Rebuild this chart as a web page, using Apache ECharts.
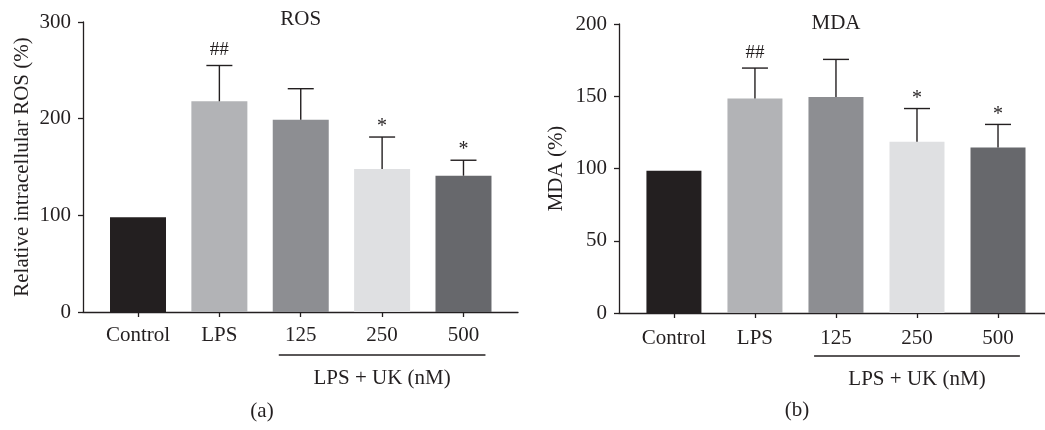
<!DOCTYPE html>
<html>
<head>
<meta charset="utf-8">
<script src="https://cdn.jsdelivr.net/npm/echarts@6/dist/echarts.min.js"></script>
<style>
html,body{margin:0;padding:0;background:#fff;}
#chart{width:1045px;height:430px;}
</style>
</head>
<body>
<div id="chart"></div>
<script>
// ---- data ----
var categories = ['Control', 'LPS', '125', '250', '500'];
var rosMean = [98, 218, 199, 148, 141];
var rosSD   = [0, 37, 32, 33, 16];
var rosSig  = ['', '##', '', '*', '*'];
var mdaMean = [98.5, 148.5, 149.5, 118.5, 114.5];
var mdaSD   = [0, 21, 26, 23, 16];
var mdaSig  = ['', '##', '', '*', '*'];
var barColors = ['#231f20', '#b2b3b6', '#8d8e92', '#dfe0e2', '#67686c'];
var groupLabel = 'LPS + UK (nM)';
var groupSpan = [1.73, 4.27]; // in category units

var FONT = '"Liberation Serif", "Times New Roman", serif';
var INK = '#231f20';
var FS = 21;

var chart = echarts.init(document.getElementById('chart'), null, {renderer: 'canvas'});

function barData(means) {
  return means.map(function (v, i) {
    return {value: [i, v], itemStyle: {color: barColors[i]}};
  });
}
function errData(means, sds) {
  return means.map(function (v, i) { return [i, v, v + sds[i]]; });
}
var sigBySeries = {};
function renderErr(params, api) {
  var x = api.value(0), y = api.value(1), top = api.value(2);
  var sig = sigBySeries[params.seriesIndex][params.dataIndex];
  var p0 = api.coord([x, y]);
  var p1 = api.coord([x, top]);
  var children = [];
  var capHalf = 13;
  if (top > y) {
    children.push({type: 'line', shape: {x1: p0[0], y1: p0[1], x2: p1[0], y2: p1[1]},
      style: {stroke: INK, lineWidth: 1.4}});
    children.push({type: 'line', shape: {x1: p1[0] - capHalf, y1: p1[1], x2: p1[0] + capHalf, y2: p1[1]},
      style: {stroke: INK, lineWidth: 1.4}});
  }
  if (sig) {
    var isStar = sig.indexOf('*') >= 0;
    children.push({type: 'text', x: p1[0], y: p1[1] - (isStar ? 0 : 6),
      style: {text: sig, fill: INK, font: (isStar ? '20px ' : '19px ') + FONT,
        align: 'center', verticalAlign: 'bottom'}});
  }
  return {type: 'group', children: children};
}

function xAxisDef(gridIndex, min, max, margin) {
  return {
    type: 'value', gridIndex: gridIndex, min: min, max: max,
    splitLine: {show: false},
    axisLine: {show: true, onZero: false, lineStyle: {color: INK, width: 1.3}},
    axisTick: {show: true, length: 5, lineStyle: {color: INK, width: 1.3}, customValues: [0, 1, 2, 3, 4]},
    axisLabel: {show: true, customValues: [0, 1, 2, 3, 4], margin: margin,
      color: INK, fontFamily: FONT, fontSize: FS,
      formatter: function (v) { return categories[Math.round(v)]; }}
  };
}
function yAxisDef(gridIndex, max, interval, name, nameGap) {
  return {
    type: 'value', gridIndex: gridIndex, min: 0, max: max, interval: interval,
    name: name, nameLocation: 'middle', nameGap: nameGap,
    nameTextStyle: {color: INK, fontFamily: FONT, fontSize: FS},
    splitLine: {show: false},
    axisLine: {show: true, onZero: false, lineStyle: {color: INK, width: 1.3}},
    axisTick: {show: true, length: 5, lineStyle: {color: INK, width: 1.3}},
    axisLabel: {margin: 12, color: INK, fontFamily: FONT, fontSize: FS}
  };
}

var series = [
  {type: 'bar', xAxisIndex: 0, yAxisIndex: 0, barWidth: 56, data: barData(rosMean), z: 2},
  {type: 'bar', xAxisIndex: 1, yAxisIndex: 1, barWidth: 55, data: barData(mdaMean), z: 2},
  {type: 'custom', xAxisIndex: 0, yAxisIndex: 0, renderItem: renderErr, data: errData(rosMean, rosSD), z: 3, clip: false},
  {type: 'custom', xAxisIndex: 1, yAxisIndex: 1, renderItem: renderErr, data: errData(mdaMean, mdaSD), z: 3, clip: false}
];
sigBySeries[2] = rosSig;
sigBySeries[3] = mdaSig;

chart.setOption({
  animation: false,
  backgroundColor: '#fff',
  grid: [
    {left: 83, top: 22, width: 435, height: 290, containLabel: false},
    {left: 619, top: 24, width: 426, height: 289, containLabel: false}
  ],
  xAxis: [xAxisDef(0, -0.676, 4.67, 13), xAxisDef(1, -0.678, 4.58, 15)],
  yAxis: [yAxisDef(0, 300, 100, 'Relative intracellular ROS (%)', 50),
          yAxisDef(1, 200, 50, 'MDA (%)', 52)],
  series: series
});

// annotations placed through the axes' own scales
function annot(idx, title, titleDy, panelLabel, panelX, panelY) {
  var xL = chart.convertToPixel({xAxisIndex: idx}, groupSpan[0]);
  var xR = chart.convertToPixel({xAxisIndex: idx}, groupSpan[1]);
  var xC = chart.convertToPixel({xAxisIndex: idx}, 3);
  var xT = chart.convertToPixel({xAxisIndex: idx}, 2);
  var y0 = chart.convertToPixel({yAxisIndex: idx}, 0);
  var yTop = chart.convertToPixel({yAxisIndex: idx}, idx === 0 ? 300 : 200);
  return [
    {type: 'line', shape: {x1: xL, y1: y0 + 43, x2: xR, y2: y0 + 43}, style: {stroke: INK, lineWidth: 1.3}},
    {type: 'text', x: xC, y: y0 + 66, style: {text: groupLabel, fill: INK, font: FS + 'px ' + FONT, align: 'center', verticalAlign: 'middle'}},
    {type: 'text', x: xT, y: yTop + titleDy, style: {text: title, fill: INK, font: FS + 'px ' + FONT, align: 'center', verticalAlign: 'middle'}},
    {type: 'text', x: panelX, y: panelY, style: {text: panelLabel, fill: INK, font: FS + 'px ' + FONT, align: 'center', verticalAlign: 'middle'}}
  ];
}
chart.setOption({graphic: annot(0, 'ROS', -3, '(a)', 262, 411).concat(annot(1, 'MDA', -1, '(b)', 797, 410))});
</script>
</body>
</html>
